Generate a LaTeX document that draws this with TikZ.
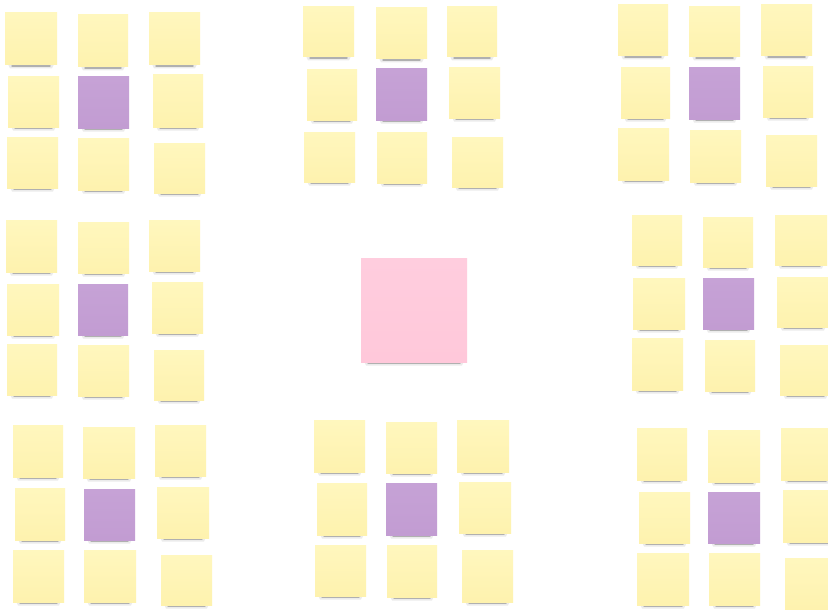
\documentclass[tikz,border=0pt]{standalone}
\usepackage{tikz}
\definecolor{yelT}{HTML}{FFF7BE}
\definecolor{yelB}{HTML}{FEF2AE}
\definecolor{purT}{HTML}{C6A2D6}
\definecolor{purB}{HTML}{C29CD2}
\definecolor{pinkT}{HTML}{FFCDDE}
\definecolor{pinkB}{HTML}{FFC8DA}
\tikzset{
  notebase/.style={rectangle, inner sep=0pt, outer sep=0pt, anchor=north west, draw=none, shading angle=0},
  yel/.style={notebase, top color=yelT, bottom color=yelB},
  pur/.style={notebase, top color=purT, bottom color=purB},
  pnk/.style={notebase, top color=pinkT, bottom color=pinkB},
  shadowsoft/.style={fill=black, opacity=0.08},
  shadowdark/.style={draw=black, opacity=0.25, line width=1.5pt, line cap=round},
}
\newcommand\pnote[6]{%
  \fill[shadowsoft] ({#3+2},{#6-3}) -- ({#5-2},{#6-3}) -- ({#5-5},{#6+3.5}) -- ({#3+5},{#6+3.5}) -- cycle;
  \draw[shadowdark] ({#3+7},{#6+1.2}) -- ({#5-7},{#6+1.2});
  \node[#2, minimum width={(#5-#3)*1pt}, minimum height={(#6-#4)*1pt}] (#1) at (#3,#4) {};
}
\begin{document}
\begin{tikzpicture}[x=1pt,y=-1pt]
\useasboundingbox (0,0) rectangle (828,610);
\fill[white] (0,0) rectangle (828,610);
\clip (0,0) rectangle (828,610);
% top-left
\pnote{a1}{yel}{5}{13}{57}{65}
\pnote{a2}{yel}{78}{15}{128}{67}
\pnote{a3}{yel}{149}{13}{200}{65}
\pnote{a4}{yel}{8}{77}{59}{127}
\pnote{a5}{pur}{78}{77}{129}{128}
\pnote{a6}{yel}{153}{75}{203}{127}
\pnote{a7}{yel}{7}{137}{58}{188}
\pnote{a8}{yel}{78}{138}{129}{190}
\pnote{a9}{yel}{154}{143}{205}{193}
% top-centre
\pnote{b1}{yel}{303}{7}{354}{57}
\pnote{b2}{yel}{376}{8}{427}{59}
\pnote{b3}{yel}{447}{7}{497}{57}
\pnote{b4}{yel}{307}{70}{357}{120}
\pnote{b5}{pur}{376}{69}{427}{120}
\pnote{b6}{yel}{449}{68}{500}{118}
\pnote{b7}{yel}{304}{132}{355}{182}
\pnote{b8}{yel}{377}{132}{427}{183}
\pnote{b9}{yel}{452}{137}{503}{187}
% top-right
\pnote{c1}{yel}{618}{5}{668}{56}
\pnote{c2}{yel}{689}{7}{740}{57}
\pnote{c3}{yel}{761}{5}{812}{56}
\pnote{c4}{yel}{621}{68}{670}{118}
\pnote{c5}{pur}{689}{68}{740}{119}
\pnote{c6}{yel}{763}{67}{813}{117}
\pnote{c7}{yel}{618}{128}{669}{180}
\pnote{c8}{yel}{690}{130}{741}{182}
\pnote{c9}{yel}{766}{135}{817}{186}
% middle-left
\pnote{d1}{yel}{6}{220}{57}{272}
\pnote{d2}{yel}{78}{222}{129}{273}
\pnote{d3}{yel}{149}{220}{200}{271}
\pnote{d4}{yel}{7}{284}{59}{335}
\pnote{d5}{pur}{78}{284}{128}{335}
\pnote{d6}{yel}{152}{282}{203}{333}
\pnote{d7}{yel}{7}{344}{57}{395}
\pnote{d8}{yel}{78}{345}{129}{396}
\pnote{d9}{yel}{154}{350}{204}{400}
% centre
\pnote{ctr}{pnk}{361}{258}{467}{362}
% middle-right
\pnote{e1}{yel}{632}{215}{682}{265}
\pnote{e2}{yel}{703}{217}{753}{267}
\pnote{e3}{yel}{775}{215}{827}{265}
\pnote{e4}{yel}{633}{278}{685}{329}
\pnote{e5}{pur}{703}{278}{754}{329}
\pnote{e6}{yel}{777}{277}{829}{327}
\pnote{e7}{yel}{632}{338}{683}{390}
\pnote{e8}{yel}{705}{340}{755}{391}
\pnote{e9}{yel}{780}{345}{831}{395}
% bottom-left
\pnote{f1}{yel}{13}{425}{63}{477}
\pnote{f2}{yel}{83}{427}{135}{478}
\pnote{f3}{yel}{155}{425}{206}{476}
\pnote{f4}{yel}{15}{488}{65}{540}
\pnote{f5}{pur}{84}{489}{135}{540}
\pnote{f6}{yel}{157}{487}{209}{538}
\pnote{f7}{yel}{13}{550}{64}{602}
\pnote{f8}{yel}{84}{550}{136}{602}
\pnote{f9}{yel}{161}{555}{212}{605}
% bottom-centre
\pnote{g1}{yel}{314}{420}{365}{472}
\pnote{g2}{yel}{386}{422}{437}{473}
\pnote{g3}{yel}{457}{420}{509}{472}
\pnote{g4}{yel}{317}{483}{367}{535}
\pnote{g5}{pur}{386}{483}{437}{535}
\pnote{g6}{yel}{459}{482}{511}{533}
\pnote{g7}{yel}{315}{545}{366}{596}
\pnote{g8}{yel}{387}{545}{437}{597}
\pnote{g9}{yel}{462}{550}{513}{602}
% bottom-right
\pnote{h1}{yel}{637}{428}{687}{480}
\pnote{h2}{yel}{708}{430}{760}{482}
\pnote{h3}{yel}{781}{428}{833}{480}
\pnote{h4}{yel}{639}{492}{690}{543}
\pnote{h5}{pur}{708}{492}{760}{543}
\pnote{h6}{yel}{783}{490}{835}{542}
\pnote{h7}{yel}{637}{553}{689}{605}
\pnote{h8}{yel}{709}{553}{760}{605}
\pnote{h9}{yel}{785}{558}{836}{610}
\end{tikzpicture}
\end{document}
